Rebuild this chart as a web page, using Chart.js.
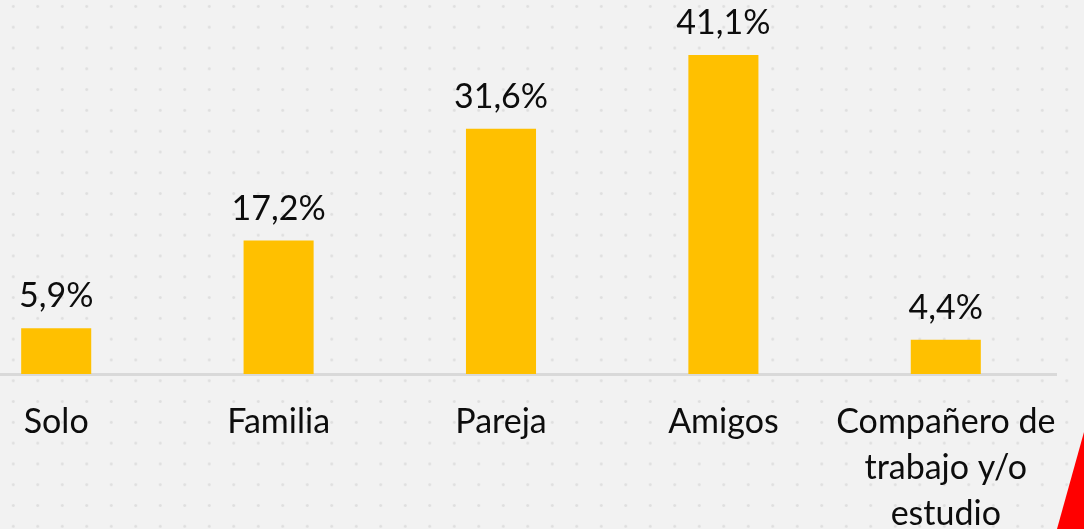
<!DOCTYPE html>
<html>
<head>
<meta charset="utf-8">
<script src="https://cdn.jsdelivr.net/npm/chart.js@4/dist/chart.umd.min.js"></script>
<style>
  html, body { margin: 0; padding: 0; }
  body {
    width: 1084px; height: 529px; overflow: hidden; position: relative;
    background-color: #f2f2f2;
  }
  /* faint dot grid like the slide background */
  .dots {
    position: absolute; left: 0; top: 0; width: 1084px; height: 529px;
    background-image: radial-gradient(circle, rgba(0,0,0,0.08) 1.2px, transparent 1.6px);
    background-size: 24.5px 20.8px;
    background-position: 1px -4px;
  }
  .wrap { position: absolute; left: -55px; top: 0; width: 1112px; height: 529px; }
  .red {
    position: absolute; left: 1057px; top: 432px; width: 27px; height: 97px;
    background: #ff0000;
    clip-path: polygon(0 100%, 100% 0, 100% 100%);
  }
</style>
</head>
<body>
<div class="dots"></div>
<div class="wrap"><canvas id="chart"></canvas></div>
<div class="red"></div>
<script>
// ── Data ─────────────────────────────────────────────
const categories = [
  'Solo',
  'Familia',
  'Pareja',
  'Amigos',
  ['Compañero de', 'trabajo y/o', 'estudio'],
];
const shares = [5.9, 17.2, 31.6, 41.1, 4.4];
const shareLabels = ['5,9%', '17,2%', '31,6%', '41,1%', '4,4%'];

const FONT = "Lato, 'Open Sans', sans-serif";

// ── Value labels above each bar ──────────────────────
const barLabels = {
  id: 'barLabels',
  afterDatasetsDraw(chart) {
    const ctx = chart.ctx;
    const meta = chart.getDatasetMeta(0);
    ctx.save();
    ctx.font = '34px ' + FONT;
    ctx.fillStyle = '#0d0d0d';
    ctx.textAlign = 'center';
    ctx.textBaseline = 'alphabetic';
    meta.data.forEach((bar, i) => {
      ctx.fillText(shareLabels[i], bar.x, bar.y - 21);
    });
    ctx.restore();
  }
};

new Chart(document.getElementById('chart'), {
  type: 'bar',
  data: {
    labels: categories,
    datasets: [{
      data: shares,
      backgroundColor: '#ffc000',
      borderWidth: 0,
      categoryPercentage: 1,
      barPercentage: 0.315,
    }],
  },
  options: {
    responsive: true,
    maintainAspectRatio: false,
    animation: false,
    layout: { padding: 0 },
    plugins: {
      legend: { display: false },
      tooltip: { enabled: false },
    },
    scales: {
      x: {
        grid: { display: false, drawTicks: false },
        border: { display: true, color: '#d9d9d9', width: 3 },
        ticks: {
          color: '#0d0d0d',
          padding: 25,
          maxRotation: 0,
          autoSkip: false,
          font: { family: FONT, size: 34, lineHeight: 1.35 },
        },
        // fixed axis height, and no extra side room for the long last label
        afterFit: s => {
          s.height = 155;
          s.paddingLeft = 0;
          s.paddingRight = 0;
        },
      },
      y: {
        display: false,
        min: 0,
        max: 48.2,
      },
    },
  },
  plugins: [barLabels],
});
</script>
</body>
</html>
